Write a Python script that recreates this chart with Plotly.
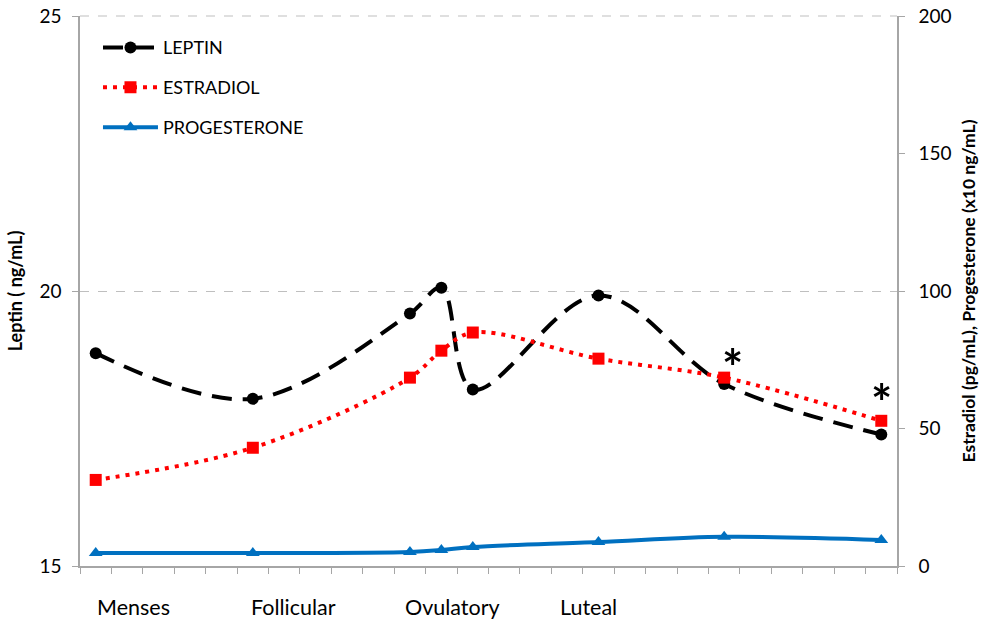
import plotly.graph_objects as go

# category positions (26-category axis, points at selected categories)
x_pos = [1, 6, 11, 12, 13, 17, 21, 26]
leptin = [18.87, 18.04, 19.59, 20.06, 18.21, 19.92, 18.31, 17.39]
estradiol = [31.3, 43.0, 68.5, 78.3, 84.9, 75.4, 68.5, 52.8]
progesterone = [4.7, 4.7, 5.1, 5.8, 6.9, 8.7, 10.6, 9.5]

leptin_ticks = [15, 20, 25]
right_ticks = [0, 50, 100, 150, 200]

phase_labels = ["Menses", "Follicular", "Ovulatory", "Luteal"]
phase_label_x = [0.98, 5.88, 10.78, 15.71]

star_x = [21.25, 26.0]
star_y2 = [72.3, 59.5]

FONT = "Lato"
GRID = "#bfbfbf"
AXIS = "#a6a6a6"

fig = go.Figure()
fig.add_trace(go.Scatter(
    x=x_pos, y=leptin, name="LEPTIN", mode="lines+markers",
    line=dict(color="black", width=4, dash="20px,11px", shape="spline", smoothing=1),
    marker=dict(symbol="circle", size=12, color="black"),
    legendgroup="a"))
fig.add_trace(go.Scatter(
    x=x_pos, y=estradiol, name="ESTRADIOL", mode="lines+markers", yaxis="y2",
    line=dict(color="#ff0000", width=4, dash="4px,6px", shape="spline", smoothing=1),
    marker=dict(symbol="square", size=12, color="#ff0000"),
    legendgroup="b"))
fig.add_trace(go.Scatter(
    x=x_pos, y=progesterone, name="PROGESTERONE", mode="lines+markers", yaxis="y2",
    line=dict(color="#0070c0", width=4, shape="spline", smoothing=1),
    marker=dict(symbol="triangle-up", size=12, color="#0070c0"),
    legendgroup="c"))

# top gridline at the upper edge of the plot (plotly omits it at the edge)
fig.add_shape(type="line", xref="paper", yref="paper", x0=0, x1=1, y0=1, y1=1,
              line=dict(color=GRID, width=1, dash="dash"), layer="above")

for lx, lt in zip(phase_label_x, phase_labels):
    fig.add_annotation(x=lx, y=0, xref="x", yref="paper", text=lt, showarrow=False,
                       xanchor="left", yanchor="middle", yshift=-41,
                       font=dict(family=FONT, size=21.5, color="black"))

for sx, sy in zip(star_x, star_y2):
    fig.add_annotation(x=sx, y=sy, xref="x", yref="y2", text="<b>*</b>", showarrow=False,
                       xanchor="center", yanchor="middle",
                       font=dict(family=FONT, size=50, color="black"))

fig.update_layout(
    width=985, height=621,
    margin=dict(l=80, r=88, t=16, b=55, autoexpand=False),
    paper_bgcolor="white", plot_bgcolor="white",
    font=dict(family=FONT, color="black"),
    showlegend=True,
    legend=dict(x=0.022, y=0.976, xanchor="left", yanchor="top",
                bgcolor="rgba(0,0,0,0)", tracegroupgap=13.5, itemwidth=55,
                font=dict(family=FONT, size=18, color="black")),
    xaxis=dict(range=[0.5, 26.5], showgrid=False, zeroline=False, automargin=False,
               tickmode="linear", tick0=0.5, dtick=1, showticklabels=False,
               ticks="outside", ticklen=6, tickcolor=AXIS, tickwidth=1,
               showline=True, linecolor=AXIS, linewidth=1.5),
    yaxis=dict(range=[15, 25], tickvals=leptin_ticks, showgrid=True, gridcolor=GRID,
               griddash="dash", gridwidth=1, zeroline=False, ticks="outside", ticklen=6,
               tickcolor=AXIS, showline=True, linecolor=AXIS, linewidth=1.5, automargin=False,
               ticklabelstandoff=7, ticklabeloverflow="allow",
               tickfont=dict(family=FONT, size=19, color="black"),
               title=dict(text="<b>Leptin ( ng/mL)</b>", font=dict(family=FONT, size=18), standoff=12)),
    yaxis2=dict(range=[0, 200], tickvals=right_ticks, overlaying="y",
                side="right", showgrid=False, ticklabeloverflow="allow",
                zeroline=False, ticks="outside", ticklen=6, tickcolor=AXIS, automargin=False,
                showline=True, linecolor=AXIS, linewidth=1.5, ticklabelstandoff=10,
                tickfont=dict(family=FONT, size=19, color="black"),
                title=dict(text="<b>Estradiol (pg/mL), Progesterone (x10 ng/mL)</b>",
                           font=dict(family=FONT, size=17.5), standoff=12)),
)

fig.write_html("out.html", config={"displayModeBar": False},
               post_script="document.body.style.margin='0';")
